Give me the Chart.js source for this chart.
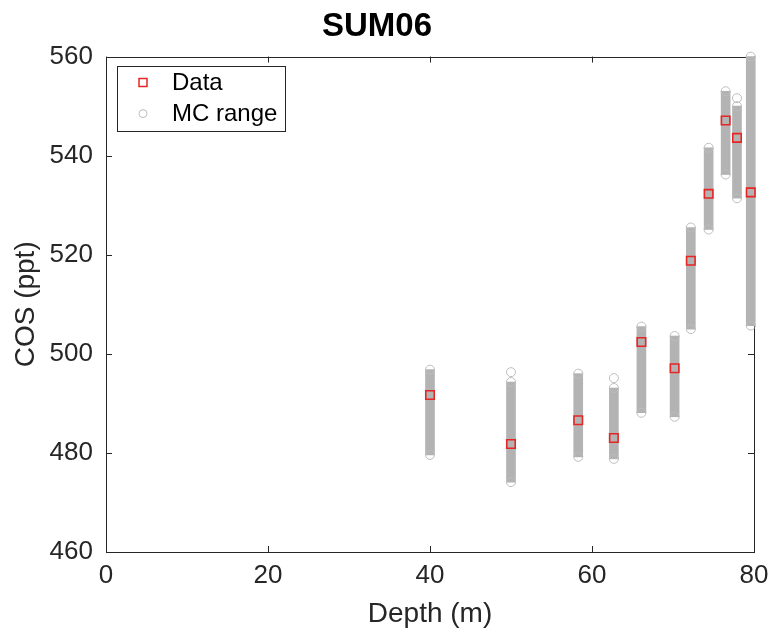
<!DOCTYPE html>
<html><head><meta charset="utf-8">
<script src="https://cdn.jsdelivr.net/npm/chart.js@4/dist/chart.umd.min.js"></script>
<style>html,body{margin:0;padding:0;background:#fff}</style>
</head><body>
<canvas id="c" width="773" height="631"></canvas>
<script>
// ---- data ----
const depths  = [40.0, 50.0, 58.3, 62.7, 66.1, 70.2, 72.2, 74.4, 76.5, 77.9, 79.6];
const cosData = [491.7, 481.8, 486.6, 483.0, 502.4, 497.1, 518.8, 532.3, 547.1, 543.6, 532.6];
const mcMin   = [479.6, 474.1, 479.2, 478.8, 488.1, 487.3, 505.0, 525.1, 536.2, 531.4, 505.7];
const mcMax   = [496.8, 494.3, 496.0, 493.1, 505.5, 503.6, 525.5, 541.6, 553.0, 550.0, 560.0];
const outlierDepths = [50.0, 62.7, 77.9];
const outlierValues = [496.3, 495.1, 551.6];
const xTicks = [0, 20, 40, 60, 80];
const yTicks = [460, 480, 500, 520, 540, 560];

const FONT = "'Liberation Sans', Arial, Helvetica, sans-serif";
const INK = '#262626';
const GRAY_FILL = '#b3b3b3';
const GRAY_LINE = '#bdbdbd';
const RED = '#e82525';

const dataPts = depths.map((d, i) => ({x: d, y: cosData[i]}));
const barPts = depths.map((d, i) => ({x: d, y: [mcMin[i], mcMax[i]]}));
const circPts = depths.map((d, i) => ({x: d, y: mcMin[i]}))
  .concat(depths.map((d, i) => ({x: d, y: mcMax[i]})))
  .concat(outlierDepths.map((d, i) => ({x: d, y: outlierValues[i]})));

const framePlugin = {
  id: 'frame',
  beforeDatasetsDraw(chart) {
    const {ctx, chartArea: a, scales} = chart;
    ctx.save();
    ctx.strokeStyle = INK; ctx.lineWidth = 1;
    ctx.strokeRect(Math.round(a.left) + 0.5, Math.round(a.top) + 0.5,
                   Math.round(a.right - a.left), Math.round(a.bottom - a.top));
    const L = 6;
    ctx.beginPath();
    scales.x.ticks.forEach(t => {
      const px = Math.round(scales.x.getPixelForValue(t.value)) + 0.5;
      ctx.moveTo(px, a.bottom); ctx.lineTo(px, a.bottom - L);
      ctx.moveTo(px, a.top); ctx.lineTo(px, a.top + L);
    });
    scales.y.ticks.forEach(t => {
      const py = Math.round(scales.y.getPixelForValue(t.value)) + 0.5;
      ctx.moveTo(a.left, py); ctx.lineTo(a.left + L, py);
      ctx.moveTo(a.right, py); ctx.lineTo(a.right - L, py);
    });
    ctx.stroke();
    ctx.restore();
  }
};

const legendPlugin = {
  id: 'boxLegend',
  afterDatasetsDraw(chart) {
    const {ctx, chartArea: a} = chart;
    const x0 = a.left + 11, y0 = a.top + 9, w = 168, h = 65;
    ctx.save();
    ctx.fillStyle = '#fff';
    ctx.fillRect(x0, y0, w, h);
    ctx.strokeStyle = INK; ctx.lineWidth = 1;
    ctx.strokeRect(Math.round(x0) + 0.5, Math.round(y0) + 0.5, w, h);
    const items = [
      {label: chart.data.datasets[0].label, type: 'rect', y: y0 + 17},
      {label: chart.data.datasets[1].label, type: 'circle', y: y0 + 48}
    ];
    const mx = x0 + 26;
    items.forEach(it => {
      ctx.beginPath();
      if (it.type === 'rect') {
        ctx.strokeStyle = RED; ctx.lineWidth = 1.5;
        ctx.rect(mx - 4, it.y - 4, 8, 8);
      } else {
        ctx.strokeStyle = GRAY_LINE; ctx.lineWidth = 1;
        ctx.arc(mx, it.y, 4, 0, Math.PI * 2);
      }
      ctx.stroke();
      ctx.fillStyle = '#000';
      ctx.font = '24px ' + FONT;
      ctx.textBaseline = 'middle';
      ctx.textAlign = 'left';
      ctx.fillText(it.label, x0 + 55, it.y + 1);
    });
    ctx.restore();
  }
};

new Chart(document.getElementById('c'), {
  type: 'bar',
  data: {
    datasets: [
      {type: 'scatter', label: 'Data', data: dataPts, pointStyle: 'rect',
       pointRadius: 6, pointBorderWidth: 1.6, pointBorderColor: RED,
       pointBackgroundColor: 'rgba(0,0,0,0)', showLine: false, clip: false},
      {type: 'scatter', label: 'MC range', data: circPts, pointStyle: 'circle',
       pointRadius: 4.5, pointBorderWidth: 1, pointBorderColor: GRAY_LINE,
       pointBackgroundColor: 'rgba(0,0,0,0)', showLine: false, clip: false},
      {type: 'bar', label: 'MC band', data: barPts, backgroundColor: GRAY_FILL,
       borderWidth: 0, barThickness: 9, grouped: false, clip: false}
    ]
  },
  options: {
    responsive: false,
    animation: false,
    layout: {padding: {left: 0, right: 19, top: 0, bottom: 0}},
    plugins: {
      legend: {display: false},
      tooltip: {enabled: false},
      title: {display: true, text: 'SUM06', color: '#000',
              font: {family: FONT, size: 33, weight: 'bold'},
              padding: {top: 7, bottom: 10}}
    },
    scales: {
      x: {type: 'linear', min: 0, max: 80, offset: false,
          afterBuildTicks: s => { s.ticks = xTicks.map(v => ({value: v})); },
          grid: {display: false, drawTicks: false}, border: {display: false},
          ticks: {color: INK, font: {family: FONT, size: 26}, padding: 8, maxRotation: 0},
          title: {display: true, text: 'Depth (m)', color: INK,
                  font: {family: FONT, size: 28}, padding: {top: 0, bottom: 0}},
          afterFit: s => { s.height = 79; s.paddingLeft = 0; s.paddingRight = 0; }},
      y: {type: 'linear', min: 460, max: 560,
          afterBuildTicks: s => { s.ticks = yTicks.map(v => ({value: v})); },
          grid: {display: false, drawTicks: false}, border: {display: false},
          ticks: {color: INK, font: {family: FONT, size: 26}, padding: 13},
          title: {display: true, text: 'COS (ppt)', color: INK,
                  font: {family: FONT, size: 28}, padding: {top: 9, bottom: 0}},
          afterFit: s => { s.width = 106; s.paddingTop = 0; s.paddingBottom = 0; }}
    }
  },
  plugins: [framePlugin, legendPlugin]
});
</script>
</body></html>
